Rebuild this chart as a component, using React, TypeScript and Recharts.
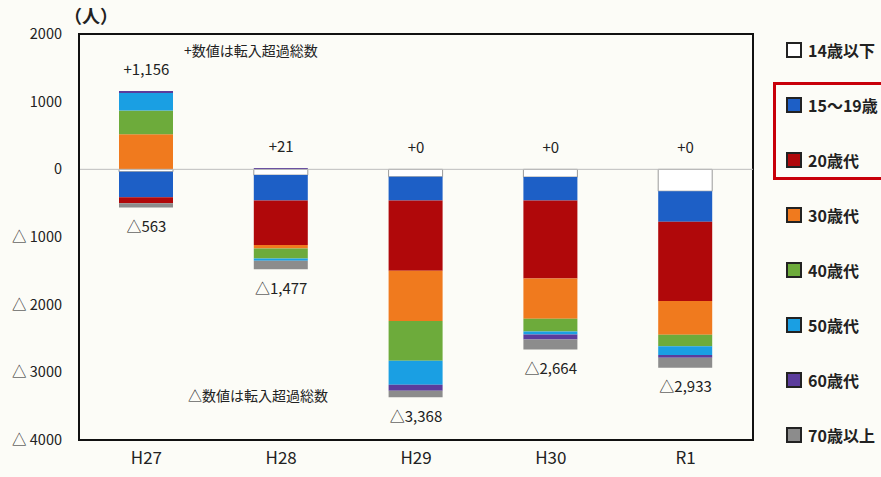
import * as React from 'react';
import { BarChart, Bar, XAxis, YAxis, ReferenceLine, ReferenceDot, ReferenceArea } from 'recharts';

// 年齢階級別 転入超過数（人）
const years = ['H27', 'H28', 'H29', 'H30', 'R1'];
const ageGroups = ['14歳以下', '15～19歳', '20歳代', '30歳代', '40歳代', '50歳代', '60歳代', '70歳以上'];
const ageColors = ['#ffffff', '#1d5fc6', '#b0080a', '#f07a1e', '#6dab3b', '#1a9fe3', '#5b3c9c', '#8c8c8c'];

const under14 = [-35, -85, -110, -114, -323];
const age15to19 = [-378, -377, -352, -348, -451];
const age20s = [-89, -658, -1036, -1150, -1171];
const age30s = [520, -49, -745, -596, -501];
const age40s = [348, -149, -584, -188, -169];
const age50s = [259, -34, -358, -44, -128];
const age60s = [29, 21, -89, -75, -40];
const age70plus = [-61, -125, -94, -149, -150];

const inTotals = [1156, 21, 0, 0, 0];
const outTotals = [-563, -1477, -3368, -2664, -2933];

const yTicks = [2000, 1000, 0, -1000, -2000, -3000, -4000];

const seriesValues = [under14, age15to19, age20s, age30s, age40s, age50s, age60s, age70plus];
const keys = ['a14', 'a15', 'a20', 'a30', 'a40', 'a50', 'a60', 'a70'];

const data = years.map((year, i) => {
  const row: Record<string, any> = { year };
  keys.forEach((k, s) => { row[k] = seriesValues[s][i]; });
  return row;
});

const font = '"Noto Sans CJK JP", "Noto Sans", sans-serif';
const fmtTick = (v: number) => (v < 0 ? `△ ${-v}` : `${v}`);
const fmtOut = (v: number) => `△${(-v).toLocaleString('en-US')}`;
const fmtIn = (v: number) => `+${v.toLocaleString('en-US')}`;

function SideLegend() {
  return (
    <div style={{ position: 'absolute', left: 786, top: 0, fontFamily: font }}>
      {ageGroups.map((name, i) => (
        <div key={name} style={{ position: 'absolute', top: 41 + i * 55, display: 'flex', alignItems: 'center', whiteSpace: 'nowrap' }}>
          <span style={{ width: 12, height: 12, background: ageColors[i], border: '2px solid #222', display: 'inline-block' }} />
          <span style={{ marginLeft: 6, fontSize: 16, fontWeight: 700, color: '#222', lineHeight: '18px' }}>{name}</span>
        </div>
      ))}
      <div style={{ position: 'absolute', left: -13, top: 82, width: 120, height: 92, border: '3.5px solid #c8000a' }} />
    </div>
  );
}

export default function App() {
  return (
    <div style={{ position: 'relative', width: 881, height: 477, background: '#fcfcf7', overflow: 'hidden' }}>
      <style>{'body{margin:0}'}</style>
      <div style={{ position: 'absolute', left: 64, top: 2, fontFamily: font, fontSize: 18, fontWeight: 700, color: '#222' }}>（人）</div>
      <BarChart
        width={881}
        height={477}
        data={data}
        stackOffset="sign"
        margin={{ top: 34, right: 128, left: 0, bottom: 0 }}
        barSize={54}
      >
        <XAxis
          dataKey="year"
          height={37}
          axisLine={{ stroke: '#111', strokeWidth: 2 }}
          tickLine={false}
          tickSize={0}
          tickMargin={12}
          tick={{ fontSize: 17, fill: '#222', fontFamily: font }}
        />
        <YAxis
          width={79}
          domain={[-4000, 2000]}
          ticks={yTicks}
          interval={0}
          tickFormatter={fmtTick}
          axisLine={{ stroke: '#111', strokeWidth: 2 }}
          tickLine={false}
          tickSize={0}
          tickMargin={17}
          tick={{ fontSize: 14.5, fill: '#222', fontFamily: font }}
        />
        {/* plot frame */}
        <ReferenceArea x1="H27" x2="R1" y1={-4000} y2={2000} fill="none" stroke="#111" strokeWidth={2} ifOverflow="extendDomain" />
        <ReferenceLine y={0} stroke="#bdbdbd" strokeWidth={1} />
        {keys.map((k, s) => (
          <Bar
            key={k}
            dataKey={k}
            name={ageGroups[s]}
            stackId="age"
            fill={ageColors[s]}
            stroke={s === 0 ? '#9a9a9a' : 'none'}
            strokeWidth={s === 0 ? 1 : 0}
            isAnimationActive={false}
          />
        ))}
        {years.map((y, i) => (
          <ReferenceDot
            key={'in' + y}
            x={y}
            y={inTotals[i]}
            r={0}
            fill="none"
            stroke="none"
            label={{ value: fmtIn(inTotals[i]), position: 'top', offset: 16, fontSize: 15, fill: '#222', fontFamily: font }}
          />
        ))}
        {years.map((y, i) => (
          <ReferenceDot
            key={'out' + y}
            x={y}
            y={outTotals[i]}
            r={0}
            fill="none"
            stroke="none"
            label={{ value: fmtOut(outTotals[i]), position: 'bottom', offset: 14, fontSize: 15, fill: '#222', fontFamily: font }}
          />
        ))}
      </BarChart>
      <div style={{ position: 'absolute', left: 184, top: 40, fontFamily: font, fontSize: 14, color: '#222' }}>+数値は転入超過総数</div>
      <div style={{ position: 'absolute', left: 188, top: 385, fontFamily: font, fontSize: 14, color: '#222' }}>△数値は転入超過総数</div>
      <SideLegend />
    </div>
  );
}
